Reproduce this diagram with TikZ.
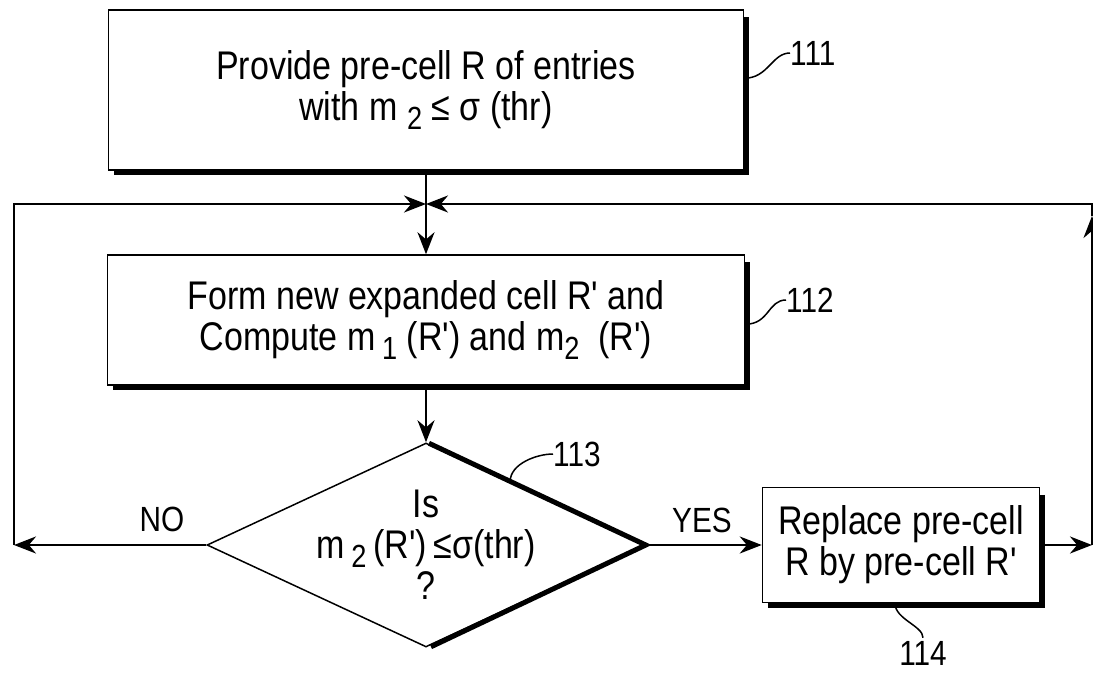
\documentclass[tikz,border=0pt]{standalone}
\usepackage{fontspec}
\setmainfont{Liberation Sans}[Ligatures=TeXOff, FakeStretch=0.85]
\usetikzlibrary{shapes.geometric,arrows.meta}
\newcommand{\idx}[1]{\raisebox{-0.4ex}{\fontsize{32}{32}\selectfont #1}}

\begin{document}
\begin{tikzpicture}[inner sep=0pt,
  box/.style={draw, line width=1.5pt, shape=rectangle, align=center, font=\fontsize{40}{41}\selectfont},
  tag/.style={font=\fontsize{35}{36}\selectfont},
  flow/.style={line width=2.5pt, -{Stealth[length=22pt,width=17pt]}},
  lead/.style={line width=1.5pt},
  shade/.style={line width=5pt}]
\useasboundingbox (0pt,0pt) rectangle (1093pt,-673pt);
\node (n111) [box, minimum width=635pt, minimum height=160pt, at={(426pt,-90pt)}] {Provide pre-cell R of entries\\with m \idx{2} ≤ σ (thr)};
\node (n112) [box, minimum width=637pt, minimum height=130pt, at={(426pt,-320pt)}] {Form new expanded cell R' and\\Compute m\,\idx{1} (R') and m\idx{2}\ \ (R')};
\node (n113) [draw, line width=1.5pt, shape=diamond, minimum width=438pt, minimum height=204pt, at={(426pt,-545pt)},
  label={[align=center, font=\fontsize{40}{41}\selectfont]center:Is\\m\,\idx{2}\,(R')\,≤σ(thr)\\?}] {};
\node (n114) [box, minimum width=277pt, minimum height=115pt, at={(901pt,-545pt)}] {Replace pre-cell\\R by pre-cell R'};
\node (l111) [tag, anchor=west, at={(790pt,-53pt)}] {111};
\node (l112) [tag, anchor=west, at={(786pt,-300pt)}] {112};
\node (l113) [tag, anchor=west, at={(553pt,-454pt)}] {113};
\node (l114) [tag, at={(923pt,-653pt)}] {114};
\node (tno) [tag, at={(162pt,-519pt)}] {NO};
\node (tyes) [tag, at={(702pt,-520pt)}] {YES};
\coordinate (j) at (426pt,-204pt);
\coordinate (cl) at (14pt,-204pt);
\coordinate (cb) at (14pt,-545pt);
\coordinate (cr) at (1092pt,-545pt);
\coordinate (ct) at (1092pt,-204pt);
% heavy edges
\path [shade,draw] ([xshift=2pt,yshift=-8pt]n111.north east)--([xshift=2pt,yshift=-2pt]n111.south east)--([xshift=6pt,yshift=-2pt]n111.south west);
\path [shade,draw] ([xshift=2pt,yshift=-8pt]n112.north east)--([xshift=2pt,yshift=-2pt]n112.south east)--([xshift=6pt,yshift=-2pt]n112.south west);
\path [shade,draw] ([xshift=2pt,yshift=-8pt]n114.north east)--([xshift=2pt,yshift=-2pt]n114.south east)--([xshift=6pt,yshift=-2pt]n114.south west);
\path [shade,draw] ([xshift=3pt,yshift=-1pt]n113.north)--(n113.east)--([xshift=5pt,yshift=1pt]n113.south);
% flow
\path [flow,draw] (n111.south)--(n112.north);
\path [flow,draw] (n112.south)--(n113.north);
\path [flow,draw] (n113.west)--(cb);
\path [flow,draw] (cb)--(cl)--(j);
\path [flow,draw] (n113.east)--(n114.west);
\path [flow,draw] (n114.east)--(cr);
\path [flow,draw] (cr)--([yshift=-12pt]ct);
\path [flow,draw] ([yshift=-12pt]ct)--(ct)--(j);
% leaders
\path [lead,draw] ([yshift=-69pt]n111.north east) .. controls +(24pt,0pt) and +(-18pt,0pt) .. (l111.west);
\path [lead,draw] ([yshift=-70pt]n112.north east) .. controls +(24pt,0pt) and +(-18pt,0pt) .. (l112.west);
\path [lead,draw] (n113.37) .. controls +(0pt,18pt) and +(-16pt,0pt) .. (l113.west);
\path [lead,draw] ([xshift=-6pt]n114.south) .. controls +(0pt,-16pt) and +(0pt,12pt) .. ([yshift=3pt]l114.north);
\end{tikzpicture}
\end{document}
